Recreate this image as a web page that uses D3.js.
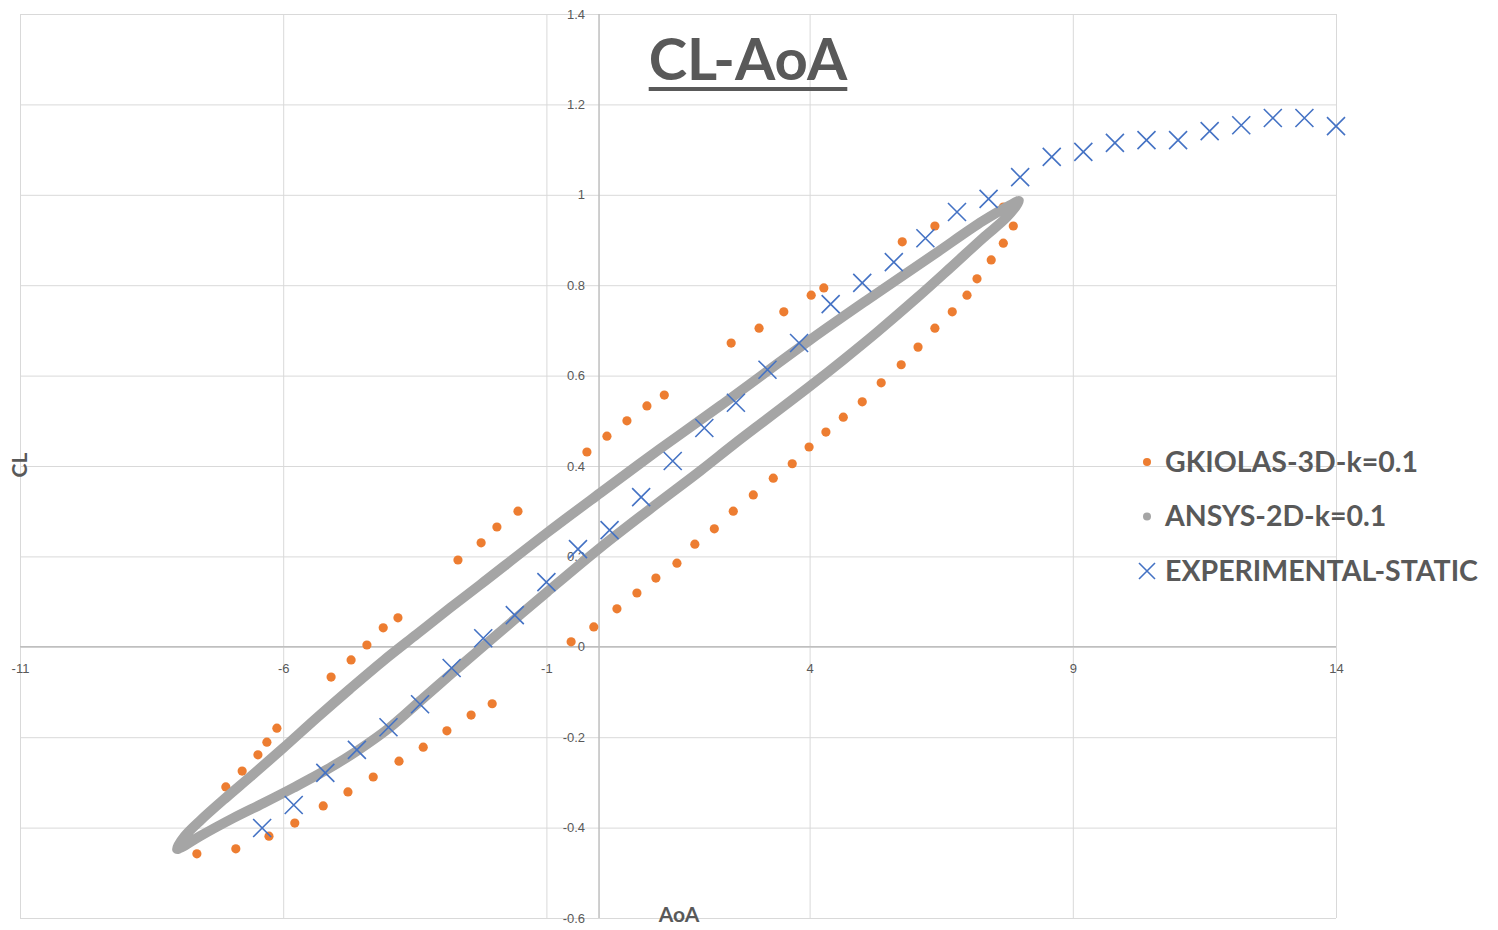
<!DOCTYPE html>
<html>
<head>
<meta charset="utf-8">
<script src="https://cdn.jsdelivr.net/npm/d3@7"></script>
<style>
  body { margin: 0; background: #fff; }
  svg { font-family: Lato, "Open Sans", sans-serif; }
  .grid line { stroke: #d9d9d9; stroke-width: 1; }
  .grid path { display: none; }
  .axis path { stroke: #bfbfbf; stroke-width: 1.5; }
  .axis text { fill: #595959; font-size: 13px; }
  .axis-title { fill: #595959; font-size: 21px; font-weight: bold; }
  .legend-text { fill: #595959; font-size: 28.5px; font-weight: bold; }
</style>
</head>
<body>
<svg id="chart"></svg>
<script>
// GKIOLAS-3D-k=0.1 (upper branch then lower branch)
const gkiolasAoA = [-7.64, -7.09, -6.78, -6.48, -6.31, -6.12, -5.09, -4.71, -4.41, -4.10, -3.82,
  -2.68, -2.24, -1.94, -1.54, -0.23, 0.15, 0.53, 0.91, 1.24, 2.51, 3.04, 3.51, 4.03, 4.27,
  5.76, 6.38, 7.68,
  -6.90, -6.27, -5.78, -5.24, -4.77, -4.29, -3.80, -3.34, -2.89, -2.43, -2.03,
  -0.53, -0.10, 0.34, 0.72, 1.08, 1.48, 1.82, 2.19, 2.55, 2.93, 3.31, 3.67, 3.99, 4.31,
  4.64, 5.00, 5.36, 5.74, 6.06, 6.38, 6.71, 6.99, 7.18, 7.45, 7.68, 7.87];
const gkiolasCL = [-0.458, -0.310, -0.275, -0.239, -0.211, -0.180, -0.067, -0.029, 0.004, 0.042, 0.064,
  0.192, 0.230, 0.265, 0.300, 0.431, 0.466, 0.500, 0.533, 0.557, 0.672, 0.705, 0.741, 0.778, 0.794,
  0.896, 0.931, 0.973,
  -0.447, -0.419, -0.390, -0.352, -0.321, -0.288, -0.253, -0.222, -0.186, -0.151, -0.126,
  0.011, 0.044, 0.084, 0.119, 0.152, 0.185, 0.227, 0.261, 0.300, 0.336, 0.373, 0.405, 0.442, 0.475,
  0.508, 0.542, 0.584, 0.624, 0.663, 0.705, 0.741, 0.778, 0.814, 0.856, 0.893, 0.931];

// ANSYS-2D-k=0.1 loop (upstroke then downstroke)
const ansysAoA = [-8.02, -7.87, -7.58, -7.07, -6.63, -6.00, -5.36, -4.73, -4.10, -3.46, -2.83, -2.26,
  -0.99, 0.02, 1.16, 2.30, 4.01, 5.09, 6.35, 7.29, 7.81, 7.98,
  7.75, 7.29, 6.67, 6.04, 5.28, 4.64, 4.01, 3.19, 2.55, 1.92, 0.97, 0.02, -0.99, -2.17, -2.79,
  -3.38, -3.99, -4.58, -5.19, -5.81, -6.38, -6.95, -7.58, -7.92];
const ansysCL = [-0.447, -0.419, -0.385, -0.332, -0.288, -0.224, -0.157, -0.093, -0.031, 0.028, 0.086, 0.137,
  0.252, 0.340, 0.438, 0.533, 0.679, 0.767, 0.867, 0.942, 0.977, 0.986,
  0.951, 0.904, 0.838, 0.772, 0.696, 0.635, 0.577, 0.504, 0.447, 0.389, 0.305, 0.219, 0.121, 0.004, -0.058,
  -0.118, -0.180, -0.229, -0.273, -0.312, -0.346, -0.379, -0.419, -0.443];

// EXPERIMENTAL-STATIC
const expAoA = [-6.4, -5.8, -5.2, -4.6, -4.0, -3.4, -2.8, -2.2, -1.6, -1.0, -0.4, 0.2, 0.8, 1.4,
  2.0, 2.6, 3.2, 3.8, 4.4, 5.0, 5.6, 6.2, 6.8, 7.4, 8.0, 8.6, 9.2, 9.8, 10.4, 11.0, 11.6,
  12.2, 12.8, 13.4, 14.0];
const expCL = [-0.401, -0.350, -0.279, -0.228, -0.178, -0.127, -0.047, 0.019, 0.070, 0.143, 0.216,
  0.258, 0.331, 0.411, 0.484, 0.540, 0.613, 0.672, 0.758, 0.805, 0.851, 0.904, 0.962, 0.991,
  1.039, 1.084, 1.095, 1.115, 1.121, 1.121, 1.141, 1.154, 1.170, 1.170, 1.152];

const xTicks = [-11, -6, -1, 4, 9, 14];
const yTicks = [-0.6, -0.4, -0.2, 0, 0.2, 0.4, 0.6, 0.8, 1, 1.2, 1.4];
const seriesNames = ['GKIOLAS-3D-k=0.1', 'ANSYS-2D-k=0.1', 'EXPERIMENTAL-STATIC'];
const seriesColors = ['#ed7d31', '#a5a5a5', '#4472c4'];

class HysteresisChart {
  constructor(_config) {
    this.config = {
      parentElement: _config.parentElement,
      containerWidth: _config.containerWidth || 1498,
      containerHeight: _config.containerHeight || 930,
      margin: _config.margin || {top: 14, right: 162, bottom: 12, left: 20}
    };
    this.initVis();
  }

  initVis() {
    let vis = this;
    vis.svg = d3.select(vis.config.parentElement)
        .attr('width', vis.config.containerWidth)
        .attr('height', vis.config.containerHeight);

    vis.width = vis.config.containerWidth - vis.config.margin.left - vis.config.margin.right;
    vis.height = vis.config.containerHeight - vis.config.margin.top - vis.config.margin.bottom;

    vis.chartArea = vis.svg.append('g')
        .attr('transform', `translate(${vis.config.margin.left},${vis.config.margin.top})`);

    vis.xScale = d3.scaleLinear().domain([-11, 14]).range([0, vis.width]);
    vis.yScale = d3.scaleLinear().domain([-0.6, 1.4]).range([vis.height, 0]);

    vis.renderVis();
    vis.renderLegend();
  }

  renderVis() {
    let vis = this;
    const fmt = d => String(+d.toFixed(1));

    // gridlines
    vis.chartArea.append('g')
        .attr('class', 'grid')
        .attr('transform', `translate(0,${vis.height})`)
        .call(d3.axisBottom(vis.xScale).tickValues(xTicks).tickSize(-vis.height).tickFormat(''));
    vis.chartArea.append('g')
        .attr('class', 'grid')
        .call(d3.axisLeft(vis.yScale).tickValues(yTicks).tickSize(-vis.width).tickFormat(''));

    // axes crossing at the origin
    const xAxisG = vis.chartArea.append('g')
        .attr('class', 'axis x-axis')
        .attr('transform', `translate(0,${vis.yScale(0)})`)
        .call(d3.axisBottom(vis.xScale).tickValues(xTicks).tickSize(0).tickPadding(17).tickFormat(fmt));
    const yAxisG = vis.chartArea.append('g')
        .attr('class', 'axis y-axis')
        .attr('transform', `translate(${vis.xScale(0)},0)`)
        .call(d3.axisLeft(vis.yScale).tickValues(yTicks).tickSize(0).tickPadding(14).tickFormat(fmt));
    xAxisG.select('.domain').attr('d', `M0,0H${vis.width}`);
    yAxisG.select('.domain').attr('d', `M0,0V${vis.height}`);

    // GKIOLAS dots
    const gk = gkiolasAoA.map((a, i) => ({aoa: a, cl: gkiolasCL[i]}));
    vis.chartArea.selectAll('.gk-point')
        .data(gk)
        .join('circle')
        .attr('class', 'gk-point')
        .attr('r', 4.6)
        .attr('cx', d => vis.xScale(d.aoa))
        .attr('cy', d => vis.yScale(d.cl))
        .attr('fill', seriesColors[0]);

    // ANSYS loop, densely packed markers drawn as a thick stroke
    const ansys = ansysAoA.map((a, i) => [a, ansysCL[i]]);
    const loop = d3.line()
        .x(d => vis.xScale(d[0]))
        .y(d => vis.yScale(d[1]))
        .curve(d3.curveCatmullRomClosed.alpha(0.5));
    vis.chartArea.append('path')
        .datum(ansys)
        .attr('d', loop)
        .attr('fill', 'none')
        .attr('stroke', seriesColors[1])
        .attr('stroke-width', 10)
        .attr('stroke-linejoin', 'round');

    // EXPERIMENTAL crosses
    const exp = expAoA.map((a, i) => ({aoa: a, cl: expCL[i]}));
    const s = 9;
    vis.chartArea.selectAll('.exp-point')
        .data(exp)
        .join('path')
        .attr('class', 'exp-point')
        .attr('d', d => {
          const x = vis.xScale(d.aoa), y = vis.yScale(d.cl);
          return `M${x - s},${y - s}L${x + s},${y + s}M${x - s},${y + s}L${x + s},${y - s}`;
        })
        .attr('stroke', seriesColors[2])
        .attr('stroke-width', 1.6)
        .attr('fill', 'none');

    // title with underline
    const title = vis.svg.append('text')
        .attr('x', 748)
        .attr('y', 80)
        .attr('text-anchor', 'middle')
        .attr('fill', '#595959')
        .style('font-size', '58px')
        .style('font-weight', 'bold')
        .text('CL-AoA');
    const tw = title.node().getComputedTextLength();
    vis.svg.append('rect')
        .attr('x', 748 - tw / 2)
        .attr('y', 87)
        .attr('width', tw)
        .attr('height', 4)
        .attr('fill', '#595959');

    // axis titles
    vis.svg.append('text')
        .attr('class', 'axis-title')
        .attr('transform', 'translate(27,465) rotate(-90)')
        .attr('text-anchor', 'middle')
        .text('CL');
    vis.svg.append('text')
        .attr('class', 'axis-title')
        .attr('x', 679)
        .attr('y', 922)
        .attr('text-anchor', 'middle')
        .text('AoA');
  }

  renderLegend() {
    let vis = this;
    const legend = vis.svg.append('g')
        .attr('transform', 'translate(1147,462)');
    const rows = legend.selectAll('.legend-row')
        .data(seriesNames)
        .join('g')
        .attr('class', 'legend-row')
        .attr('transform', (d, i) => `translate(0,${i * 54.5})`);

    rows.filter((d, i) => i < 2)
        .append('circle')
        .attr('r', 4)
        .attr('fill', (d, i) => seriesColors[i]);
    rows.filter((d, i) => i === 2)
        .append('path')
        .attr('d', 'M-8,-8L8,8M-8,8L8,-8')
        .attr('stroke', seriesColors[2])
        .attr('stroke-width', 1.6);

    rows.append('text')
        .attr('class', 'legend-text')
        .attr('x', 18)
        .attr('dy', '0.35em')
        .text(d => d);
  }
}

new HysteresisChart({parentElement: '#chart'});
</script>
</body>
</html>
